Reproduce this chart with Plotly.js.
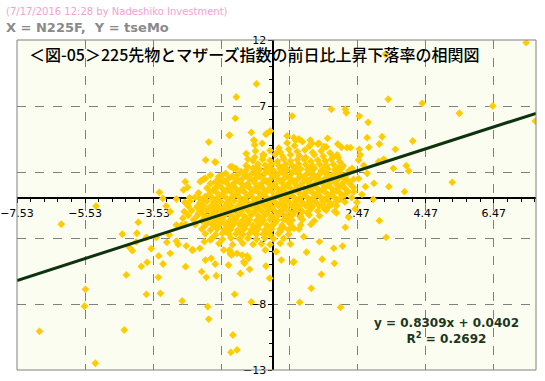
<!DOCTYPE html>
<html><head><meta charset="utf-8">
<script src="https://cdn.plot.ly/plotly-3.0.1.min.js"></script>
<style>html,body{margin:0;padding:0;background:#fff;}#chart{width:545px;height:381px;}</style>
</head><body><div id="chart"></div>
<script>
const headerStamp = "(7/17/2016 12:28 by Nadeshiko Investment)";
const headerVars = "X = N225F,\u00a0 Y = tseMo";
const chartTitle = "＜図-05＞225先物とマザーズ指数の前日比上昇下落率の相関図";
const trendSlope = 0.8309;
const trendIntercept = 0.0402;
const rSquared = 0.2692;
const xTickStart = -7.53;
const yTickStart = -13;

// dense core of daily changes (x = N225F %, y = tseMo %)
const corePairs = [
[0.4,4.2],[0.62,3.98],[0.85,4.3],[1.05,3.95],[1.3,4.12],[1.55,3.9],
[-0.1,3.62],[0.2,3.5],[0.45,3.72],[0.7,3.55],[0.92,3.66],[1.15,3.48],[1.4,3.6],[1.66,3.45],
[-0.3,3.2],[0.05,3.32],[0.28,3.15],[0.5,3.3],[0.76,3.24],[0.95,3.1],[1.2,3.3],[1.46,3.2],[1.75,3.12],
[-0.6,2.85],[-0.32,2.96],[-0.1,2.88],[0.12,2.8],[0.3,2.97],[0.5,2.84],[0.7,2.92],[0.9,2.96],[1.1,2.8],[1.3,2.9],[1.52,2.84],[1.7,2.95],[1.95,2.78],
[-0.8,2.5],[-0.45,2.6],[-0.24,2.52],[-0.05,2.62],[0.15,2.5],[0.36,2.58],[0.55,2.48],[0.74,2.6],[0.95,2.55],[1.16,2.45],[1.35,2.6],[1.56,2.52],[1.76,2.58],[2.05,2.47],
[-1.1,2.25],[-0.8,2.14],[-0.6,2.28],[-0.4,2.18],[-0.2,2.24],[0.0,2.12],[0.2,2.26],[0.4,2.2],[0.6,2.1],[0.8,2.24],[1.0,2.18],[1.2,2.28],[1.4,2.12],[1.6,2.22],[1.8,2.15],[2.0,2.26],[2.22,2.1],
[-1.4,1.9],[-1.05,1.8],[-0.85,1.92],[-0.65,1.84],[-0.45,1.78],[-0.25,1.9],[-0.05,1.82],[0.15,1.88],[0.35,1.8],[0.55,1.92],[0.75,1.84],[0.95,1.78],[1.15,1.9],[1.35,1.83],[1.55,1.88],[1.75,1.8],[1.95,1.9],[2.15,1.82],
[-1.6,1.48],[-1.3,1.55],[-1.1,1.44],[-0.9,1.52],[-0.7,1.46],[-0.5,1.56],[-0.3,1.5],[-0.1,1.42],[0.1,1.54],[0.3,1.47],[0.5,1.52],[0.7,1.44],[0.9,1.56],[1.1,1.48],[1.3,1.53],[1.5,1.45],[1.7,1.55],[1.9,1.47],[2.1,1.52],[2.35,1.44],
[-1.85,1.12],[-1.55,1.2],[-1.35,1.1],[-1.15,1.18],[-0.95,1.14],[-0.75,1.08],[-0.55,1.2],[-0.35,1.12],[-0.15,1.16],[0.05,1.1],[0.25,1.2],[0.45,1.14],[0.65,1.06],[0.85,1.18],[1.05,1.12],[1.25,1.2],[1.45,1.1],[1.65,1.16],[1.85,1.08],[2.05,1.18],[2.25,1.1],
[-1.95,0.78],[-1.7,0.85],[-1.5,0.76],[-1.3,0.82],[-1.1,0.74],[-0.9,0.84],[-0.7,0.8],[-0.5,0.86],[-0.3,0.75],[-0.1,0.82],[0.1,0.78],[0.3,0.86],[0.5,0.76],[0.7,0.83],[0.9,0.78],[1.1,0.85],[1.3,0.74],[1.5,0.82],[1.7,0.78],[1.9,0.86],[2.1,0.76],[2.35,0.82],
[-2.2,0.42],[-1.85,0.5],[-1.65,0.4],[-1.45,0.47],[-1.25,0.52],[-1.05,0.42],[-0.85,0.48],[-0.65,0.4],[-0.45,0.5],[-0.25,0.44],[-0.05,0.52],[0.15,0.4],[0.35,0.46],[0.55,0.5],[0.75,0.42],[0.95,0.48],[1.15,0.44],[1.35,0.52],[1.55,0.4],[1.75,0.47],[1.95,0.43],[2.2,0.5],
[-2.3,0.08],[-2.0,0.14],[-1.8,0.05],[-1.6,0.12],[-1.4,0.06],[-1.2,0.15],[-1.0,0.08],[-0.8,0.1],[-0.6,0.04],[-0.4,0.14],[-0.2,0.07],[0.0,0.12],[0.2,0.05],[0.4,0.15],[0.6,0.08],[0.8,0.1],[1.0,0.04],[1.2,0.13],[1.4,0.07],[1.6,0.12],[1.8,0.05],[2.0,0.1],[2.3,0.06],
[-2.45,-0.22],[-2.15,-0.3],[-1.95,-0.2],[-1.75,-0.27],[-1.55,-0.24],[-1.35,-0.32],[-1.15,-0.2],[-0.95,-0.26],[-0.75,-0.3],[-0.55,-0.22],[-0.35,-0.28],[-0.15,-0.2],[0.05,-0.3],[0.25,-0.24],[0.45,-0.27],[0.65,-0.2],[0.85,-0.31],[1.05,-0.23],[1.25,-0.28],[1.45,-0.2],[1.65,-0.3],[1.85,-0.24],[2.1,-0.27],
[-2.5,-0.58],[-2.25,-0.65],[-2.05,-0.55],[-1.85,-0.62],[-1.65,-0.6],[-1.45,-0.66],[-1.25,-0.55],[-1.05,-0.6],[-0.85,-0.64],[-0.65,-0.56],[-0.45,-0.62],[-0.25,-0.58],[-0.05,-0.66],[0.15,-0.55],[0.35,-0.61],[0.55,-0.57],[0.75,-0.64],[0.95,-0.56],[1.15,-0.62],[1.35,-0.58],[1.6,-0.65],[1.85,-0.56],
[-2.4,-0.92],[-2.15,-1.0],[-1.95,-0.9],[-1.75,-0.97],[-1.55,-0.93],[-1.35,-1.0],[-1.15,-0.9],[-0.95,-0.96],[-0.75,-0.92],[-0.55,-1.0],[-0.35,-0.94],[-0.15,-0.9],[0.05,-0.98],[0.25,-0.92],[0.45,-0.97],[0.65,-0.9],[0.85,-0.99],[1.05,-0.93],[1.3,-0.96],[1.55,-0.9],[1.8,-0.98],
[-2.5,-1.28],[-2.25,-1.35],[-2.05,-1.25],[-1.85,-1.32],[-1.65,-1.27],[-1.45,-1.34],[-1.25,-1.26],[-1.05,-1.3],[-0.85,-1.35],[-0.65,-1.25],[-0.45,-1.32],[-0.25,-1.28],[-0.05,-1.34],[0.15,-1.25],[0.35,-1.3],[0.55,-1.27],[0.8,-1.35],[1.05,-1.26],[1.35,-1.32],
[-2.35,-1.62],[-2.1,-1.7],[-1.9,-1.6],[-1.7,-1.67],[-1.5,-1.63],[-1.3,-1.7],[-1.1,-1.6],[-0.9,-1.66],[-0.7,-1.62],[-0.5,-1.7],[-0.3,-1.64],[-0.1,-1.6],[0.1,-1.68],[0.3,-1.62],[0.55,-1.66],[0.85,-1.6],[1.2,-1.7],
[-2.3,-1.98],[-2.0,-2.05],[-1.8,-1.95],[-1.6,-2.02],[-1.4,-1.97],[-1.2,-2.05],[-1.0,-1.96],[-0.8,-2.0],[-0.6,-2.06],[-0.4,-1.95],[-0.2,-2.02],[0.0,-1.98],[0.25,-2.05],[0.5,-1.96],[0.8,-2.02],[1.1,-1.97],
[-2.1,-2.32],[-1.85,-2.4],[-1.65,-2.3],[-1.45,-2.37],[-1.25,-2.33],[-1.05,-2.4],[-0.85,-2.3],[-0.65,-2.36],[-0.45,-2.32],[-0.25,-2.4],[-0.05,-2.34],[0.2,-2.3],[0.45,-2.38],[0.75,-2.32],
[-2.0,-2.68],[-1.7,-2.75],[-1.5,-2.65],[-1.3,-2.72],[-1.1,-2.68],[-0.9,-2.75],[-0.7,-2.66],[-0.5,-2.72],[-0.3,-2.68],[-0.1,-2.74],[0.15,-2.66],[0.45,-2.72],
[-1.8,-3.02],[-1.5,-3.1],[-1.25,-3.0],[-1.0,-3.08],[-0.75,-3.03],[-0.5,-3.1],[-0.25,-3.0],[0.0,-3.06],[0.3,-3.02],
[-1.6,-3.42],[-1.2,-3.5],[-0.9,-3.4],[-0.6,-3.48],[-0.35,-3.44],[-0.1,-3.5],[0.2,-3.4],[0.5,-3.46]
];

// extra days packed between the core rows
const centerPairs = [
[-0.5,2.38],[-0.1,2.4],[0.3,2.36],[0.7,2.42],[1.1,2.35],[1.5,2.38],[1.9,2.33],
[-0.95,2.02],[-0.55,1.98],[-0.15,2.05],[0.25,2.0],[0.65,2.04],[1.05,1.97],[1.45,2.03],[1.85,2.0],
[-1.2,1.68],[-0.8,1.7],[-0.4,1.66],[0.0,1.72],[0.4,1.65],[0.8,1.7],[1.2,1.67],[1.6,1.72],[2.0,1.66],
[-1.45,1.33],[-1.0,1.3],[-0.6,1.35],[-0.2,1.28],[0.2,1.34],[0.6,1.3],[1.0,1.36],[1.4,1.3],[1.8,1.33],[2.2,1.3],
[-1.6,0.98],[-1.2,0.95],[-0.8,1.0],[-0.4,0.94],[0.0,0.99],[0.4,0.96],[0.8,1.0],[1.2,0.95],[1.6,0.98],[2.0,0.96],
[-1.75,0.63],[-1.35,0.6],[-0.95,0.65],[-0.55,0.6],[-0.15,0.64],[0.25,0.6],[0.65,0.65],[1.05,0.61],[1.45,0.64],[1.85,0.6],
[-1.9,0.28],[-1.5,0.25],[-1.1,0.3],[-0.7,0.26],[-0.3,0.29],[0.1,0.25],[0.5,0.3],[0.9,0.27],[1.3,0.29],[1.7,0.25],[2.1,0.28],
[-2.05,-0.08],[-1.65,-0.1],[-1.25,-0.06],[-0.85,-0.1],[-0.45,-0.07],[-0.05,-0.1],[0.35,-0.06],[0.75,-0.09],[1.15,-0.07],[1.55,-0.1],[1.95,-0.06],
[-2.15,-0.42],[-1.75,-0.45],[-1.35,-0.4],[-0.95,-0.44],[-0.55,-0.41],[-0.15,-0.45],[0.25,-0.4],[0.65,-0.44],[1.05,-0.42],[1.45,-0.45],
[-2.1,-0.78],[-1.7,-0.8],[-1.3,-0.76],[-0.9,-0.8],[-0.5,-0.77],[-0.1,-0.8],[0.3,-0.76],[0.7,-0.79],[1.1,-0.77],[1.5,-0.8],
[-2.2,-1.12],[-1.8,-1.15],[-1.4,-1.1],[-1.0,-1.14],[-0.6,-1.11],[-0.2,-1.15],[0.2,-1.1],[0.6,-1.13],[1.0,-1.12],
[-2.0,-1.47],[-1.6,-1.5],[-1.2,-1.45],[-0.8,-1.49],[-0.4,-1.46],[0.0,-1.5],[0.4,-1.45],[0.8,-1.48],
[-1.95,-1.82],[-1.55,-1.85],[-1.15,-1.8],[-0.75,-1.84],[-0.35,-1.81],[0.05,-1.85],[0.45,-1.8],
[-1.7,-2.18],[-1.3,-2.2],[-0.9,-2.16],[-0.5,-2.2],[-0.1,-2.17],[0.3,-2.2],
[-1.4,-2.52],[-1.0,-2.55],[-0.6,-2.5],[-0.2,-2.54],[0.2,-2.5]
];

// scattered days outside the core
const fringePairs = [
[-5.21,-0.58],[-6.23,-1.96],[-3.97,-1.81],[-4.44,-2.70],[-4.01,-2.64],[-3.73,-2.95],[-4.03,-3.30],[-4.25,-3.66],[-4.14,-3.96],[-3.59,-3.81],[-3.44,-2.95],[-3.37,-4.36],[-3.71,-4.84],[-3.88,-5.15],[-3.24,-4.97],[-3.03,-4.16],[-3.13,-3.33],[-2.85,-3.23],[-2.80,-3.48],[-3.06,-2.77],[-2.58,-5.17],[-4.32,-5.80],[-3.38,-5.98],[-3.32,-7.19],[-3.73,-7.27],[-2.68,-7.77],[-5.52,-6.89],[-5.55,-8.17],[-6.87,-10.07],[-4.38,-9.97],[-5.23,-12.49],[-3.15,-0.58],[-3.03,-1.01],[-2.6,-0.3],[-2.62,-1.0],[-2.66,-1.5],[-2.7,-2.02],[-2.85,-2.02],[-2.58,-1.95],
[-3.35,0.46],[-3.25,0.0],[-2.85,-0.05],[-2.59,1.27],[-2.64,0.64],[-2.46,0.05],[-2.17,0.0],[-2.52,0.84],[-2.12,1.34],[-2.0,1.52],[-1.70,1.27],[-1.65,0.89],[-1.26,2.40],[-1.17,2.28],[-1.31,1.52],[-0.77,2.40],
[-0.50,8.67],[-1.09,7.68],[-1.12,6.07],[-1.30,4.78],[-0.65,5.0],[-1.90,4.27],[-1.99,2.91],[-1.72,2.76],[-0.58,4.42],[-0.53,3.59],[-0.55,3.11],[-0.29,3.31],[-0.22,4.86],[-0.09,5.11],[0.55,6.24],[0.40,4.73],[0.6,4.6],[0.65,4.4],[0.75,4.5],[1.08,4.42],[1.13,4.17],[-1.21,2.40],[-1.51,1.77],[-1.61,1.64],[-2.05,1.45],[-1.85,1.77],[-2.15,1.27],[-0.75,2.98],[0.16,3.8],[0.13,3.54],[-0.56,4.37],[-0.55,4.05],[-0.33,4.17],[-0.30,3.34],[-0.80,3.39],[-1.29,4.80],[-1.70,2.73],[-0.19,4.93],
[-0.24,-3.91],[0.08,-4.04],[0.23,-4.67],[-0.22,-5.12],[-0.11,-6.05],[0.58,-4.84],[0.97,-4.08],[1.11,-6.81],[0.77,-7.87],[-0.65,-7.85],[-1.14,-7.27],[-1.93,-8.20],[-1.90,-9.14],[-1.19,-10.35],[-1.25,-11.66],[-1.07,-11.48],[-2.0,-4.67],[-1.83,-4.54],[-1.71,-4.97],[-1.97,-5.98],[-1.68,-5.86],[-2.11,-5.55],[-1.32,-5.05],[-0.97,-5.68],[-0.85,-4.92],[-0.77,-4.36],[-0.70,-5.37],[-1.27,-4.21],[-1.29,-3.91],[-2.39,-3.91],[-2.16,-3.78],[-2.03,-3.28],[-1.85,-3.15],[0.89,-2.90],[0.60,-2.27],[-2.56,-3.6],[-2.36,-3.91],[-1.46,-3.91],[-1.26,-4.04],[-1.23,-4.29],[-1.07,-4.16],[-0.92,-4.29],[-0.87,-4.8],[-0.73,-4.54],[0.6,-4.8],
[7.42,11.80],[3.29,10.92],[3.37,7.51],[4.37,7.20],[5.46,6.45],[6.44,7.0],[7.69,5.86],[1.70,6.75],[2.11,6.75],[2.14,6.49],[2.52,6.24],[2.78,5.76],[2.75,4.60],[3.19,4.67],[3.11,4.12],[2.80,3.87],[3.58,3.72],[4.09,4.35],[3.24,2.98],[3.09,2.78],[3.90,2.48],[3.97,2.08],[3.52,2.28],[2.52,3.72],[2.55,3.29],[2.26,3.84],[2.16,3.84],[3.39,0.89],[3.85,0.51],[5.25,1.22],[2.93,-0.07],[1.89,4.12],[2.0,3.87],[1.87,3.3],[1.9,3.1],[2.50,2.91],[2.31,2.28],[2.75,1.90],[2.95,1.14],[2.70,0.89],[2.36,0.51],[1.59,4.55],[1.34,4.17],[1.49,3.92],
[3.11,-1.69],[3.31,-2.95],[2.11,-2.19],[2.21,-1.43],[1.35,-3.28],[1.77,-3.78],[2.03,-3.61],[1.43,-4.61],[1.79,-4.92],[1.41,-5.75],[1.97,-8.25],[1.7,-0.5],[1.85,-1.1],[2.4,-0.8],[2.6,0.3],[2.5,1.5],[2.65,2.5],[2.45,-0.3]
];

const allPairs = corePairs.concat(centerPairs, fringePairs);
const n225fChange = allPairs.map(p => p[0]);
const tseMoChange = allPairs.map(p => p[1]);

const xRange = [-7.53, 7.71];
const yRange = [-13, 12];
const trendX = xRange.slice();
const trendY = trendX.map(x => trendSlope * x + trendIntercept);

const xZeroFrac = (0 - xRange[0]) / (xRange[1] - xRange[0]);
const yZeroFrac = (0 - yRange[0]) / (yRange[1] - yRange[0]);

const tickFont = {family: 'DejaVu Sans, Verdana, sans-serif', size: 11, color: '#000'};

const traces = [
  {type: 'scatter', mode: 'markers', x: n225fChange, y: tseMoChange,
   marker: {symbol: 'diamond', size: 6, color: '#ffcc00', line: {width: 0}},
   hoverinfo: 'skip', showlegend: false},
  {type: 'scatter', mode: 'lines', x: trendX, y: trendY,
   line: {color: '#0d330d', width: 3}, hoverinfo: 'skip', showlegend: false}
];

const layout = {
  width: 545, height: 381,
  margin: {l: 17, r: 9, t: 40, b: 11, pad: 0},
  paper_bgcolor: '#ffffff',
  plot_bgcolor: '#fbfdf0',
  showlegend: false,
  xaxis: {
    range: xRange, tick0: xTickStart, dtick: 2, tickformat: '.2f',
    anchor: 'free', position: yZeroFrac,
    showgrid: true, gridcolor: '#808080', griddash: 'dash', gridwidth: 1,
    zeroline: false, showline: true, linecolor: '#000', linewidth: 2,
    ticks: 'outside', ticklen: 4, tickcolor: '#000', tickwidth: 1,
    minor: {dtick: 0.4, tick0: xTickStart, ticks: 'outside', ticklen: 3, tickcolor: '#000', showgrid: false},
    tickfont: tickFont, layer: 'below traces', fixedrange: true
  },
  yaxis: {
    range: yRange, tick0: yTickStart, dtick: 5,
    anchor: 'free', position: xZeroFrac,
    showgrid: true, gridcolor: '#808080', griddash: 'dash', gridwidth: 1,
    zeroline: false, showline: true, linecolor: '#000', linewidth: 2,
    ticks: 'outside', ticklen: 4, tickcolor: '#000', tickwidth: 1,
    minor: {dtick: 1, ticks: 'outside', ticklen: 3, tickcolor: '#000', showgrid: false},
    tickfont: tickFont, layer: 'below traces', fixedrange: true
  },
  shapes: [
    {type: 'rect', xref: 'paper', yref: 'paper', x0: 0, x1: 1, y0: 0, y1: 1,
     line: {color: '#808080', width: 1}, layer: 'above'}
  ],
  annotations: [
    {text: headerStamp, xref: 'paper', yref: 'paper', x: -0.025, y: 1.0864,
     xanchor: 'left', yanchor: 'middle', showarrow: false,
     font: {family: 'DejaVu Sans, Verdana, sans-serif', size: 10, color: '#f6a0cf'}},
    {text: '<b>' + headerVars + '</b>', xref: 'paper', yref: 'paper', x: -0.025, y: 1.0364,
     xanchor: 'left', yanchor: 'middle', showarrow: false,
     font: {family: 'DejaVu Sans, Verdana, sans-serif', size: 13, color: '#8a8a8a'}},
    {text: chartTitle, xref: 'paper', yref: 'paper', x: 0.0193, y: 0.9576,
     xanchor: 'left', yanchor: 'middle', showarrow: false,
     font: {family: 'Noto Sans CJK JP, sans-serif', size: 16, color: '#000', weight: 500}},
    {text: '<b>y = ' + trendSlope.toFixed(4) + 'x + ' + trendIntercept.toFixed(4) + '<br>R<sup>2</sup> = ' + rSquared.toFixed(4) + '</b>',
     xref: 'paper', yref: 'paper', x: 0.8285, y: 0.1182, align: 'center',
     xanchor: 'center', yanchor: 'middle', showarrow: false,
     font: {family: 'DejaVu Sans, Verdana, sans-serif', size: 12, color: '#1c361c'}}
  ]
};

Plotly.newPlot('chart', traces, layout, {staticPlot: true, displayModeBar: false});
</script>
</body></html>
